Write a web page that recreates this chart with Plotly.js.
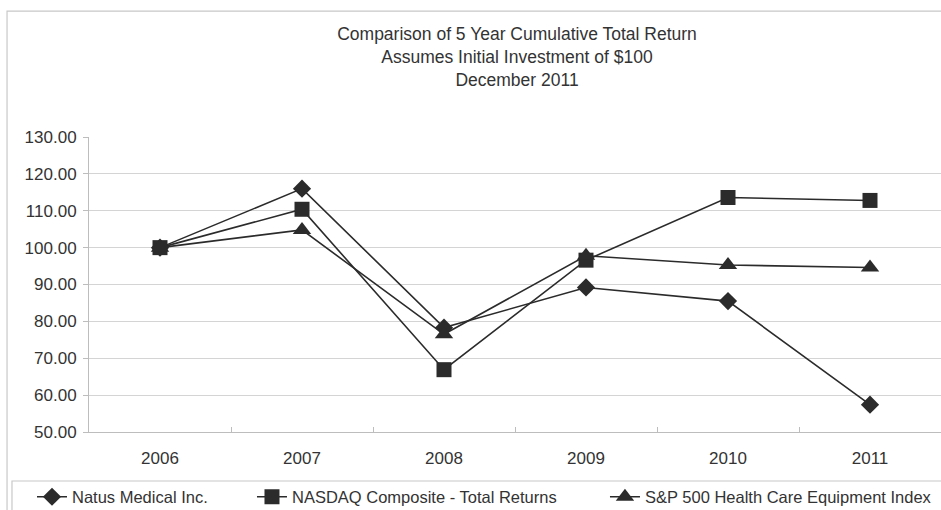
<!DOCTYPE html>
<html>
<head>
<meta charset="utf-8">
<script src="https://cdn.plot.ly/plotly-3.0.1.min.js"></script>
<style>
html,body{margin:0;padding:0;background:#fff;}
#chart{width:941px;height:510px;}
</style>
</head>
<body>
<div id="chart"></div>
<script>
const years = ["2006", "2007", "2008", "2009", "2010", "2011"];
const natus = [100.00, 116.0, 78.3, 89.2, 85.5, 57.4];
const nasdaq = [100.00, 110.4, 66.9, 96.6, 113.6, 112.8];
const spHealth = [100.00, 104.8, 76.5, 97.8, 95.3, 94.6];
const seriesNames = ["Natus Medical Inc.", "NASDAQ Composite - Total Returns", "S&P 500 Health Care Equipment Index"];
const titleLines = ["Comparison of 5 Year Cumulative Total Return", "Assumes Initial Investment of $100", "December 2011"];

const FONT = "Liberation Sans, Arial, sans-serif";
const INK = "#2b2b2b";

function trace(y, name, symbol, size, legendId) {
  return {
    x: years, y: y, name: name, type: "scatter", mode: "lines+markers",
    line: {color: INK, width: 1.6},
    marker: {symbol: symbol, size: size, color: INK, line: {width: 0}},
    legend: legendId
  };
}

const data = [
  trace(natus, seriesNames[0], "diamond", 14, "legend"),
  trace(nasdaq, seriesNames[1], "square", 15, "legend2"),
  trace(spHealth, seriesNames[2], "triangle-up", 16, "legend3")
];

function legendAt(x) {
  return {orientation: "h", x: x, xanchor: "left", y: -0.2204, yanchor: "middle",
          font: {family: FONT, size: 16.5, color: "#333"}, bgcolor: "rgba(0,0,0,0)", borderwidth: 0};
}

const layout = {
  width: 941, height: 510,
  margin: {l: 89, r: 0, t: 137, b: 78, autoexpand: false},
  paper_bgcolor: "#fff", plot_bgcolor: "#fff",
  font: {family: FONT, color: "#333"},
  title: {
    text: titleLines.join("<br>"),
    font: {family: FONT, size: 17.5, color: "#333"},
    x: 517/941, xanchor: "center", xref: "container",
    y: 1 - 40/510, yanchor: "top", yref: "container"
  },
  xaxis: {
    type: "category", range: [-0.5, 5.5],
    showline: true, linecolor: "#bdbdbd", linewidth: 1,
    showgrid: false, zeroline: false,
    tickson: "boundaries", ticks: "inside", ticklen: 5, tickcolor: "#bdbdbd",
    tickfont: {family: FONT, size: 17, color: "#333"},
    ticklabelstandoff: 11,
    fixedrange: true
  },
  yaxis: {
    range: [50, 130], dtick: 10, tick0: 50, tickformat: ".2f",
    showline: true, linecolor: "#bdbdbd", linewidth: 1,
    showgrid: true, gridcolor: "#d4d4d4", gridwidth: 1,
    zeroline: false,
    ticks: "outside", ticklen: 5, tickcolor: "#bdbdbd",
    tickfont: {family: FONT, size: 17, color: "#333"},
    ticklabelstandoff: 3,
    fixedrange: true
  },
  legend: legendAt(-0.0669),
  legend2: legendAt(0.1913),
  legend3: legendAt(0.6056),
  showlegend: true,
  shapes: [
    {type: "rect", xref: "paper", yref: "paper", x0: -0.0962, x1: 1.05, y0: -0.5, y1: 1.427,
     line: {color: "#c8c8c8", width: 1.2}, fillcolor: "rgba(0,0,0,0)", layer: "below"},
    {type: "rect", xref: "paper", yref: "paper", x0: -0.0904, x1: 1.05, y0: -0.45, y1: -0.1661,
     line: {color: "#c8c8c8", width: 1.2}, fillcolor: "rgba(0,0,0,0)", layer: "below"}
  ]
};

Plotly.newPlot("chart", data, layout, {displayModeBar: false, staticPlot: true});
</script>
</body>
</html>
